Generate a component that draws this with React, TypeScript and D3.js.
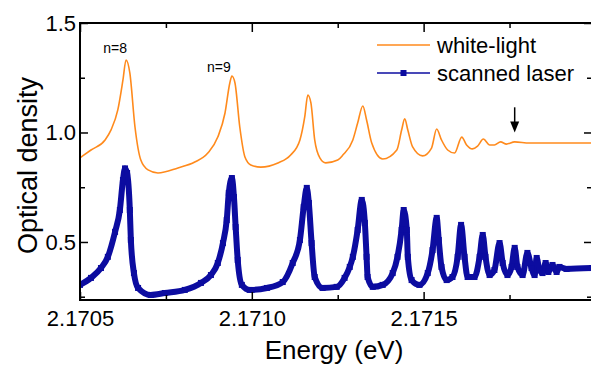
import React, { useEffect, useRef } from 'react';
import * as d3 from 'd3';

// white-light absorption spectrum: [energy (eV), optical density]
const whiteLight: [number, number][] = [
  [2.1705, 0.884], [2.170532, 0.92], [2.170573, 0.966], [2.17059, 1.011],
  [2.17061, 1.103], [2.170625, 1.24], [2.170634, 1.331], [2.170645, 1.272],
  [2.17066, 1.025], [2.170677, 0.874], [2.170698, 0.829], [2.170727, 0.815],
  [2.170785, 0.838], [2.170834, 0.865], [2.170872, 0.906], [2.170901, 0.979],
  [2.170922, 1.089], [2.170936, 1.226], [2.170942, 1.258], [2.170951, 1.226],
  [2.170965, 1.025], [2.17098, 0.888], [2.170997, 0.852], [2.171026, 0.842],
  [2.171076, 0.861], [2.171113, 0.897], [2.17114, 0.966], [2.171154, 1.071],
  [2.171163, 1.171], [2.171172, 1.135], [2.171183, 0.966], [2.171198, 0.884],
  [2.171215, 0.861], [2.17125, 0.874], [2.171265, 0.897], [2.171294, 0.966],
  [2.171308, 1.043], [2.171323, 1.121], [2.171334, 1.057], [2.171349, 0.952],
  [2.171381, 0.879], [2.171422, 0.92], [2.171436, 1.011], [2.171445, 1.062],
  [2.171454, 1.011], [2.171468, 0.934], [2.171497, 0.893], [2.171523, 0.929],
  [2.171538, 1.016], [2.171552, 0.966], [2.17157, 0.92], [2.17159, 0.906],
  [2.171611, 0.979], [2.171625, 0.943], [2.171642, 0.925], [2.171657, 0.938],
  [2.171674, 0.97], [2.171692, 0.943], [2.171706, 0.943], [2.171724, 0.957],
  [2.171741, 0.947], [2.171765, 0.957], [2.171808, 0.952], [2.171904, 0.952],
  [2.17199, 0.952],
];

// scanned laser spectrum: [energy (eV), optical density]
const scannedLaser: [number, number][] = [
  [2.1705, 0.304], [2.170532, 0.336], [2.170561, 0.381], [2.170581, 0.432],
  [2.170602, 0.546], [2.170616, 0.646], [2.170625, 0.783], [2.170631, 0.836],
  [2.170637, 0.815], [2.170645, 0.646], [2.170648, 0.509], [2.170657, 0.358],
  [2.170669, 0.29], [2.170706, 0.258], [2.170747, 0.267], [2.170805, 0.281],
  [2.170852, 0.313], [2.170881, 0.349], [2.170901, 0.404], [2.170916, 0.495],
  [2.170927, 0.6], [2.170933, 0.724], [2.170942, 0.792], [2.170948, 0.705],
  [2.170953, 0.568], [2.170959, 0.418], [2.170971, 0.304], [2.170994, 0.281],
  [2.171044, 0.29], [2.17109, 0.317], [2.171119, 0.404], [2.17114, 0.509],
  [2.171151, 0.66], [2.17116, 0.747], [2.171166, 0.678], [2.171174, 0.495],
  [2.171183, 0.34], [2.171206, 0.29], [2.171247, 0.295], [2.17127, 0.336],
  [2.171285, 0.386], [2.171294, 0.432], [2.171308, 0.555], [2.17132, 0.692],
  [2.171329, 0.587], [2.171334, 0.432], [2.171337, 0.34], [2.171352, 0.295],
  [2.171381, 0.304], [2.17141, 0.358], [2.171424, 0.432], [2.171436, 0.555],
  [2.171442, 0.646], [2.171451, 0.555], [2.171454, 0.432], [2.171465, 0.326],
  [2.171488, 0.304], [2.171512, 0.358], [2.171526, 0.463], [2.171538, 0.61],
  [2.171544, 0.509], [2.171552, 0.386], [2.171567, 0.326], [2.171584, 0.34],
  [2.171599, 0.432], [2.171609, 0.578], [2.171619, 0.432], [2.171628, 0.34],
  [2.171648, 0.34], [2.171663, 0.432], [2.171672, 0.532], [2.17168, 0.432],
  [2.171692, 0.349], [2.171706, 0.372], [2.171721, 0.495], [2.17173, 0.404],
  [2.171744, 0.349], [2.171756, 0.386], [2.171765, 0.473], [2.171773, 0.386],
  [2.171788, 0.349], [2.171802, 0.45], [2.171814, 0.381], [2.171823, 0.349],
  [2.171829, 0.427], [2.171837, 0.372], [2.171846, 0.358], [2.171855, 0.404],
  [2.171863, 0.363], [2.171875, 0.395], [2.171887, 0.363], [2.171895, 0.386],
  [2.171916, 0.377], [2.17199, 0.381],
];

const xMajor = [2.1705, 2.171, 2.1715];
const xMinor = [2.17075, 2.17125, 2.17175];
const yMajor = [0.5, 1.0, 1.5];
const yMinor = [0.25, 0.75, 1.25];

const peakLabels = [
  { text: 'n=8', energy: 2.170602, od: 1.363 },
  { text: 'n=9', energy: 2.170904, od: 1.276 },
];
const arrowEnergy = 2.171765; // last resolved peak marker
const arrowFrom = 1.115;
const arrowTo = 1.0;

const seriesNames = ['white-light', 'scanned laser'];

const ORANGE = '#ff8a1c';
const BLUE = '#0c0ca0';
const FONT = 'Liberation Sans, Arial, sans-serif';

const App = () => {
  const chartRef = useRef(null);

  useEffect(() => {
    const width = 591;
    const height = 369;
    const left = 80, top = 23, right = 592, bottom = 300;

    const x = d3.scaleLinear().domain([2.1705, 2.17199]).range([left, right]);
    const y = d3.scaleLinear().domain([0.235, 1.5]).range([bottom, top]);

    const svg = d3.select(chartRef.current)
      .append('svg')
      .attr('width', width)
      .attr('height', height)
      .style('position', 'absolute')
      .style('left', 0)
      .style('top', 0)
      .style('background', '#fff');

    svg.append('clipPath').attr('id', 'plot-clip')
      .append('rect')
      .attr('x', left).attr('y', top)
      .attr('width', right - left).attr('height', bottom - top);

    const line = d3.line<[number, number]>()
      .x(d => x(d[0]))
      .y(d => y(d[1]))
      .curve(d3.curveMonotoneX);

    const plot = svg.append('g').attr('clip-path', 'url(#plot-clip)');

    // scanned laser: dense square markers look like a thick band
    plot.append('path')
      .datum(scannedLaser)
      .attr('d', line)
      .attr('fill', 'none')
      .attr('stroke', BLUE)
      .attr('stroke-linejoin', 'round')
      .attr('stroke-width', 6);

    plot.selectAll('rect.pt')
      .data(scannedLaser)
      .enter()
      .append('rect')
      .attr('class', 'pt')
      .attr('x', d => x(d[0]) - 3)
      .attr('y', d => y(d[1]) - 3)
      .attr('width', 6)
      .attr('height', 6)
      .attr('fill', BLUE);

    plot.append('path')
      .datum(whiteLight)
      .attr('d', line)
      .attr('fill', 'none')
      .attr('stroke', ORANGE)
      .attr('stroke-width', 1.6);

    // axes: ticks point inward on all four sides
    const styleAxis = (g) => {
      g.select('.domain').remove();
      g.selectAll('line').attr('stroke', '#000').attr('stroke-width', 1.5);
      g.selectAll('text').attr('fill', '#000').attr('font-family', FONT).attr('font-size', 22);
    };

    svg.append('g')
      .attr('transform', `translate(${left},0)`)
      .call(d3.axisLeft(y).tickValues(yMajor).tickSize(-8).tickPadding(4).tickFormat(d3.format('.1f')))
      .call(styleAxis);
    svg.append('g')
      .attr('transform', `translate(${left},0)`)
      .call(d3.axisLeft(y).tickValues(yMinor).tickSize(-5).tickFormat(() => ''))
      .call(styleAxis);
    svg.append('g')
      .attr('transform', `translate(${right},0)`)
      .call(d3.axisRight(y).tickValues(yMajor).tickSize(-8).tickFormat(() => ''))
      .call(styleAxis);
    svg.append('g')
      .attr('transform', `translate(${right},0)`)
      .call(d3.axisRight(y).tickValues(yMinor).tickSize(-5).tickFormat(() => ''))
      .call(styleAxis);

    svg.append('g')
      .attr('transform', `translate(0,${bottom})`)
      .call(d3.axisBottom(x).tickValues(xMajor).tickSize(-8).tickPadding(10).tickFormat(d3.format('.4f')))
      .call(styleAxis);
    svg.append('g')
      .attr('transform', `translate(0,${bottom})`)
      .call(d3.axisBottom(x).tickValues(xMinor).tickSize(-5).tickFormat(() => ''))
      .call(styleAxis);
    svg.append('g')
      .attr('transform', `translate(0,${top})`)
      .call(d3.axisTop(x).tickValues(xMajor).tickSize(-9).tickFormat(() => ''))
      .call(styleAxis);
    svg.append('g')
      .attr('transform', `translate(0,${top})`)
      .call(d3.axisTop(x).tickValues(xMinor).tickSize(-5).tickFormat(() => ''))
      .call(styleAxis);

    // frame
    svg.append('rect')
      .attr('x', left)
      .attr('y', top)
      .attr('width', right - left)
      .attr('height', bottom - top)
      .attr('fill', 'none')
      .attr('stroke', '#000')
      .attr('stroke-width', 2);

    // axis titles
    svg.append('text')
      .attr('x', (left + right) / 2 - 2)
      .attr('y', 359)
      .attr('text-anchor', 'middle')
      .attr('font-family', FONT)
      .attr('font-size', 26)
      .text('Energy (eV)');

    svg.append('text')
      .attr('transform', `translate(37,${(top + bottom) / 2 + 4}) rotate(-90)`)
      .attr('text-anchor', 'middle')
      .attr('font-family', FONT)
      .attr('font-size', 27)
      .text('Optical density');

    // peak labels
    svg.selectAll('text.peak')
      .data(peakLabels)
      .enter()
      .append('text')
      .attr('class', 'peak')
      .attr('x', d => x(d.energy))
      .attr('y', d => y(d.od))
      .attr('text-anchor', 'middle')
      .attr('font-family', FONT)
      .attr('font-size', 14)
      .text(d => d.text);

    // arrow
    const ax = x(arrowEnergy);
    svg.append('line')
      .attr('x1', ax).attr('x2', ax)
      .attr('y1', y(arrowFrom)).attr('y2', y(arrowTo) - 8)
      .attr('stroke', '#000').attr('stroke-width', 1.5);
    svg.append('path')
      .attr('d', `M${ax - 4.5},${y(arrowTo) - 11} L${ax + 4.5},${y(arrowTo) - 11} L${ax},${y(arrowTo)} Z`)
      .attr('fill', '#000');

    // legend
    const legend = svg.append('g').attr('transform', 'translate(377,45)');
    const colors = [ORANGE, BLUE];
    seriesNames.forEach((name, i) => {
      const g = legend.append('g').attr('transform', `translate(0,${i * 28})`);
      g.append('line')
        .attr('x1', 0).attr('x2', 53)
        .attr('stroke', colors[i]).attr('stroke-width', 1.6);
      if (i === 1) {
        g.append('rect').attr('x', 23.5).attr('y', -3).attr('width', 6).attr('height', 6).attr('fill', BLUE);
      }
      g.append('text')
        .attr('x', 60)
        .attr('y', 8)
        .attr('font-family', FONT)
        .attr('font-size', 22)
        .text(name);
    });

    return () => {
      d3.select(chartRef.current).selectAll('svg').remove();
    };
  }, []);

  return <div ref={chartRef} />;
};

export default App;
